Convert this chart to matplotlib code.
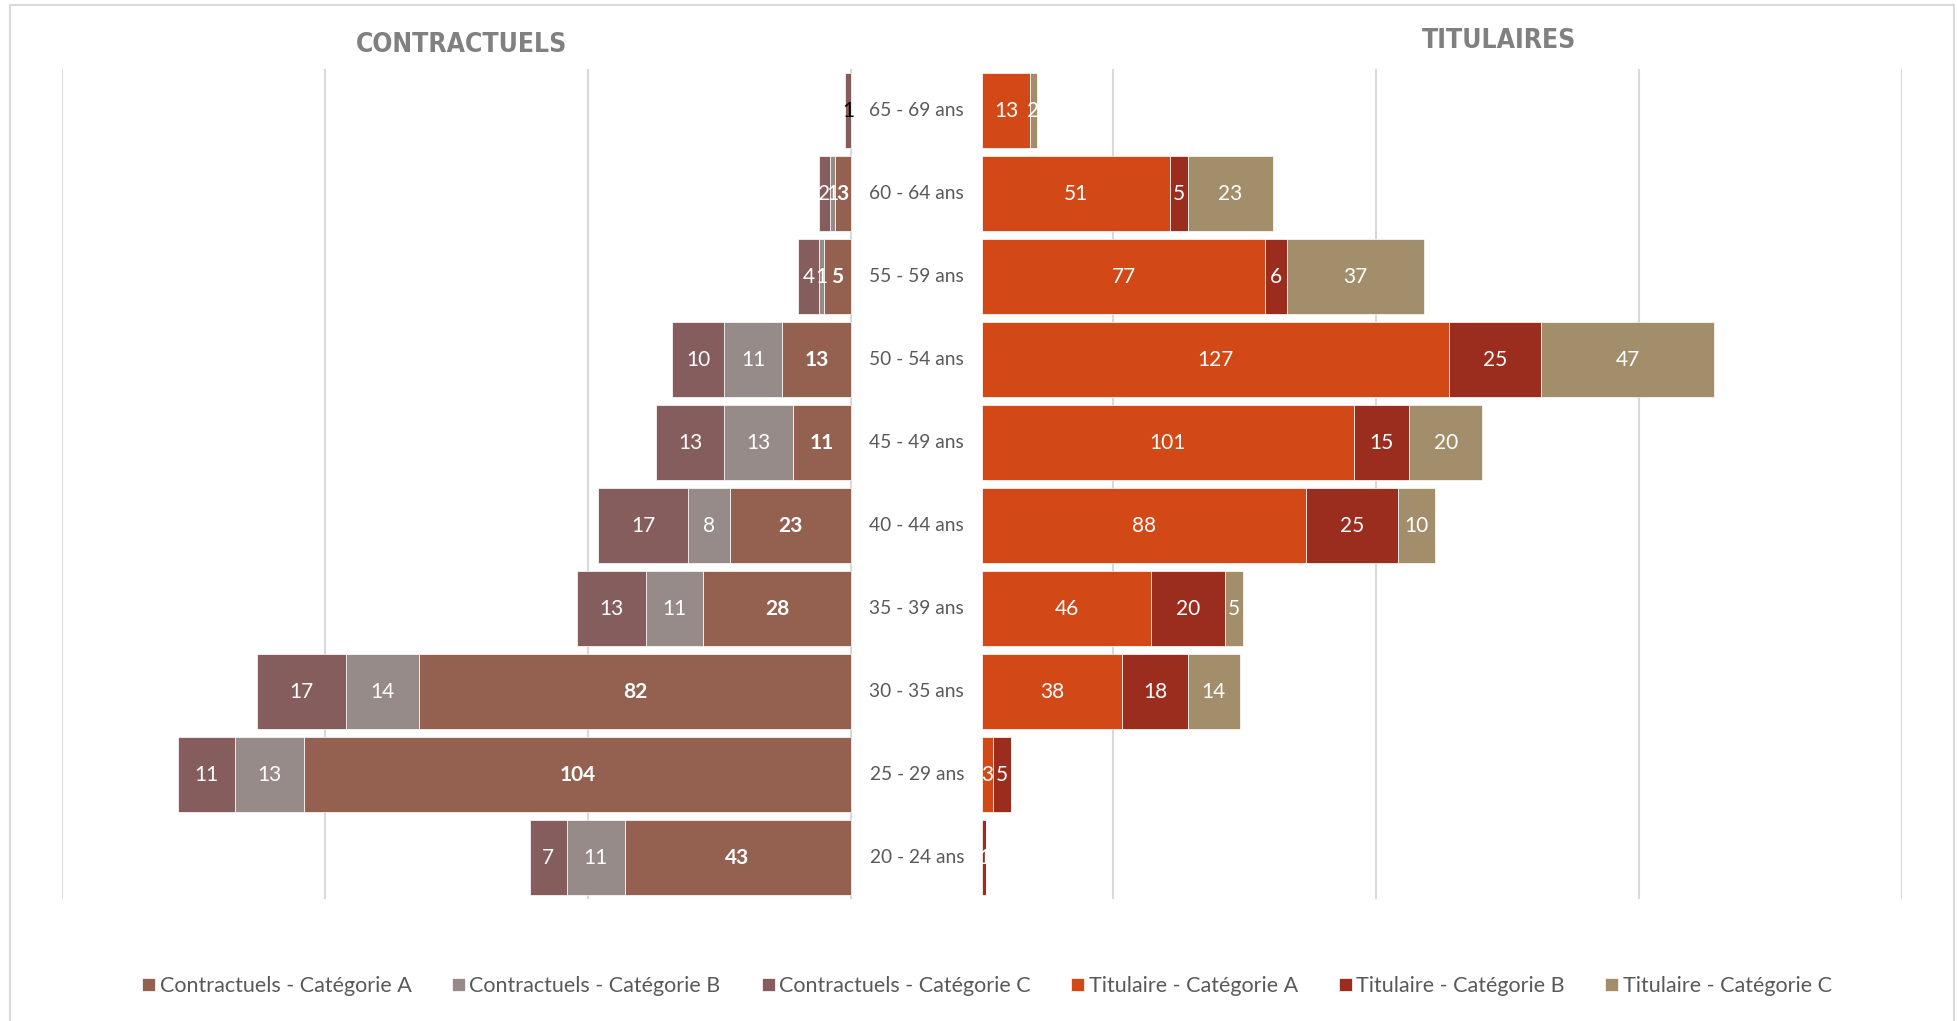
import numpy as np
import matplotlib.pyplot as plt
from matplotlib.patches import Rectangle

# Tranches d'age (du bas vers le haut)
ages = ['20 - 24 ans', '25 - 29 ans', '30 - 35 ans', '35 - 39 ans', '40 - 44 ans',
        '45 - 49 ans', '50 - 54 ans', '55 - 59 ans', '60 - 64 ans', '65 - 69 ans']

# Contractuels
contr_a = [43, 104, 82, 28, 23, 11, 13, 5, 3, 0]
contr_b = [11, 13, 14, 11, 8, 13, 11, 1, 1, 0]
contr_c = [7, 11, 17, 13, 17, 13, 10, 4, 2, 1]

# Titulaires
titu_a = [0, 3, 38, 46, 88, 101, 127, 77, 51, 13]
titu_b = [1, 5, 18, 20, 25, 15, 25, 6, 5, 0]
titu_c = [0, 0, 14, 5, 10, 20, 47, 37, 23, 2]

col_contr = ['#946151', '#968b89', '#865d5d']
col_titu = ['#d34817', '#9b2d1f', '#a28e6a']
names_contr = ['Contractuels - Catégorie A', 'Contractuels - Catégorie B', 'Contractuels - Catégorie C']
names_titu = ['Titulaire - Catégorie A', 'Titulaire - Catégorie B', 'Titulaire - Catégorie C']

W, H = 1957, 1021
fig = plt.figure(figsize=(W / 100, H / 100), dpi=100)
plt.rcParams['font.family'] = ['Lato', 'DejaVu Sans']

# cadre du graphique
fig.patches.append(Rectangle((10 / W, -0.05), (1944) / W, 1.05 - 5 / H, transform=fig.transFigure,
                             fill=False, edgecolor='#d9d9d9', lw=1.5))

bot = (H - 899) / H
hgt = 830 / H
ax1 = fig.add_axes([62 / W, bot, 1840 / W, hgt])
ax2 = fig.add_axes([982 / W, bot, 920 / W, hgt])
ax2.patch.set_alpha(0)

y = np.arange(len(ages))
bh = 0.9

ax1.set_xlim(-150, 200)
ax1.set_ylim(-0.5, 9.5)
ax1.set_xticks([-150, -100, -50, 0, 50, 100, 150, 200])
ax1.grid(axis='x', color='#d9d9d9', lw=1.5)
ax1.set_axisbelow(True)

handles = []
left = np.zeros(len(ages))
for i, (vals, c, n) in enumerate(zip([contr_a, contr_b, contr_c], col_contr, names_contr)):
    vals = np.array(vals)
    b = ax1.barh(y, -vals, left=-left, height=bh, color=c, edgecolor='white', lw=0.5, label=n)
    handles.append(b)
    for k, v in enumerate(vals):
        if v == 0:
            continue
        xc = -(left[k] + v / 2)
        colr = 'black' if k == 9 else 'white'
        ax1.text(xc, y[k], str(v), ha='center', va='center', fontsize=15, color=colr,
                 fontweight='bold' if i == 0 else 'normal')
    left += vals

ax2.set_xlim(0, 250)
ax2.set_ylim(-0.5, 9.5)
left = np.zeros(len(ages))
for i, (vals, c, n) in enumerate(zip([titu_a, titu_b, titu_c], col_titu, names_titu)):
    vals = np.array(vals)
    b = ax2.barh(y, vals, left=left, height=bh, color=c, edgecolor='white', lw=0.5, label=n)
    handles.append(b)
    for k, v in enumerate(vals):
        if v == 0:
            continue
        ax2.text(left[k] + v / 2, y[k], str(v), ha='center', va='center', fontsize=15, color='white')
    left += vals

for a in (ax1, ax2):
    for s in a.spines.values():
        s.set_visible(False)
    a.tick_params(length=0, labelbottom=False, labelleft=False)
ax2.set_xticks([])
ax2.set_yticks([])

# libelles des tranches d'age au centre
for k, lab in enumerate(ages):
    ax1.text(12.6, y[k], lab, ha='center', va='center', fontsize=13.8, color='#595959')

fig.text(462 / W, 1 - 45 / H, 'CONTRACTUELS', ha='center', va='center', fontsize=19,
         fontweight='bold', fontstretch='condensed', color='#808080', family='DejaVu Sans')
fig.text(1499 / W, 1 - 41 / H, 'TITULAIRES', ha='center', va='center', fontsize=19,
         fontweight='bold', fontstretch='condensed', color='#808080', family='DejaVu Sans')

leg = fig.legend(handles=handles, loc='center', bbox_to_anchor=(987 / W, 1 - 986 / H), ncol=6,
                 frameon=False, fontsize=15.5, handlelength=0.6, handleheight=0.6,
                 handletextpad=0.2, columnspacing=1.9)
for t in leg.get_texts():
    t.set_color('#595959')

fig.savefig('out.png', dpi=100)
